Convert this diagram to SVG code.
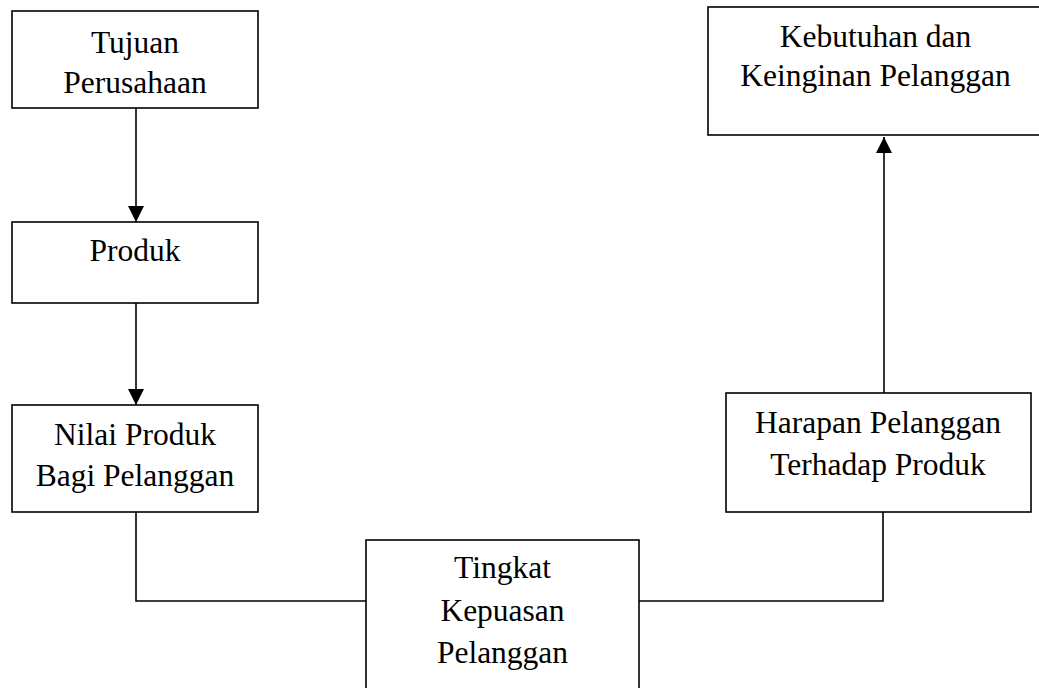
<svg xmlns="http://www.w3.org/2000/svg" width="1039" height="688" viewBox="0 0 1039 688">
<style>
.box{fill:#fff;stroke:#000;stroke-width:1.6}
.t{font-family:"Liberation Serif","Times New Roman",serif;font-size:31.5px;fill:#000;text-anchor:middle}
.c{fill:none;stroke:#000;stroke-width:1.6}
</style>
<defs>
<marker id="ah" markerUnits="userSpaceOnUse" markerWidth="16" markerHeight="16" viewBox="0 0 16 16" refX="16" refY="8" orient="auto">
<path d="M0,0 L16,8 L0,16 Z" fill="#000"/>
</marker>
</defs>
<rect width="1039" height="688" fill="#fff"/>
<g id="n1"><rect class="box" x="12" y="11" width="246" height="97"/><text class="t" x="135" y="53">Tujuan</text><text class="t" x="135" y="93">Perusahaan</text></g>
<g id="n2"><rect class="box" x="12" y="222" width="246" height="81"/><text class="t" x="135" y="261">Produk</text></g>
<g id="n3"><rect class="box" x="12" y="405" width="246" height="107"/><text class="t" x="135" y="445">Nilai Produk</text><text class="t" x="135" y="486">Bagi Pelanggan</text></g>
<g id="n4"><rect class="box" x="366" y="540" width="273" height="160"/><text class="t" x="502.5" y="578">Tingkat</text><text class="t" x="502.5" y="621">Kepuasan</text><text class="t" x="502.5" y="663">Pelanggan</text></g>
<g id="n5"><rect class="box" x="726" y="393" width="305" height="119"/><text class="t" x="878" y="433">Harapan Pelanggan</text><text class="t" x="878" y="475">Terhadap Produk</text></g>
<g id="n6"><rect class="box" x="708" y="7" width="340" height="128"/><text class="t" x="875.5" y="47">Kebutuhan dan</text><text class="t" x="875.5" y="86">Keinginan Pelanggan</text></g>
<g id="connectors">
<path class="c" d="M136,108 V222" marker-end="url(#ah)"/>
<path class="c" d="M136,303 V405" marker-end="url(#ah)"/>
<path class="c" d="M136,512 V601 H366"/>
<path class="c" d="M883,512 V601 H639"/>
<path class="c" d="M884,393 V137" marker-end="url(#ah)"/>
</g>
</svg>
